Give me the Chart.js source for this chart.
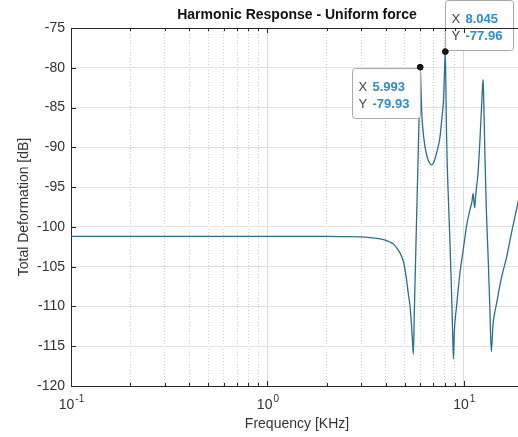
<!DOCTYPE html>
<html>
<head>
<meta charset="utf-8">
<script src="https://cdn.jsdelivr.net/npm/chart.js@4.4.0/dist/chart.umd.min.js"></script>
<style>
  html, body { margin: 0; padding: 0; background: #fff; overflow: hidden; }
  #wrap { width: 540px; height: 437px; }
</style>
</head>
<body>
<div id="wrap"><canvas id="myChart" width="540" height="437"></canvas></div>
<script>
// frequency response (kHz, dB)
const freq = [0.1, 0.2, 0.5, 1, 2, 2.5, 3, 3.5, 3.9, 4.2, 4.4, 4.6, 4.8, 4.95, 5.1, 5.22, 5.32, 5.42, 5.48, 5.53,
  5.6, 5.7, 5.8, 5.9, 5.96, 5.993, 6.03, 6.1, 6.2, 6.34, 6.5, 6.7, 6.86, 7.05, 7.3, 7.55, 7.75, 7.88, 7.97, 8.045,
  8.1, 8.17, 8.3, 8.49, 8.65, 8.77, 8.85, 8.95, 9.18, 9.55, 10.0, 10.3, 10.7, 11.0, 11.15, 11.25, 11.35, 11.45, 11.6, 11.8,
  12.05, 12.3, 12.45, 12.53, 12.62, 12.8, 13.0, 13.3, 13.55, 13.8, 14.05, 14.3, 14.65, 15.5, 16.5, 17.5, 18.5, 20];
const deform = [-101.2, -101.2, -101.2, -101.2, -101.2, -101.22, -101.25, -101.4, -101.6, -101.9, -102.2, -102.8, -103.6, -104.6, -106.5, -108.5, -110, -112.5, -114.5, -116,
  -110.3, -102.5, -94.8, -87.5, -82.8, -79.93, -81.5, -85.5, -88, -89.9, -91.2, -92, -92.2, -91.8, -90.5, -88.8, -86, -84, -80.5, -77.96,
  -82.5, -89, -95, -101.7, -108, -113.5, -116.6, -113, -110, -105.8, -102.3, -100, -98, -96.8, -95.8, -96.8, -97.6, -96.5, -95, -93.3,
  -89.5, -85, -82.3, -81.5, -84, -91, -97.5, -104, -110, -115.7, -112.5, -111, -109.7, -106.5, -103.8, -100.7, -97.9, -94];

// data tips
const tipFreq = [5.993, 8.045];
const tipDeform = [-79.93, -77.96];

// x tick labels (10^n)
const xTickValues = [0.1, 1, 10];
const xTickExp = ['-1', '0', '1'];

const FONT = '"Liberation Sans", Arial, Helvetica, sans-serif';

function isDecade(v) {
  const l = Math.log10(v);
  return Math.abs(l - Math.round(l)) < 1e-9;
}

// top border, inward ticks, title, x tick labels
const framePlugin = {
  id: 'frame',
  afterDraw(chart) {
    const { ctx, chartArea: a, scales } = chart;
    ctx.save();
    ctx.strokeStyle = '#262626';
    ctx.lineWidth = 1;
    ctx.beginPath();
    ctx.moveTo(a.left, a.top + 0.5);
    ctx.lineTo(a.right, a.top + 0.5);
    scales.x.ticks.forEach(t => {
      const px = Math.round(scales.x.getPixelForValue(t.value)) + 0.5;
      const len = isDecade(t.value) ? 5 : 3;
      ctx.moveTo(px, a.bottom); ctx.lineTo(px, a.bottom - len);
      ctx.moveTo(px, a.top); ctx.lineTo(px, a.top + len);
    });
    scales.y.ticks.forEach(t => {
      const py = Math.round(scales.y.getPixelForValue(t.value)) + 0.5;
      ctx.moveTo(a.left, py); ctx.lineTo(a.left + 5, py);
    });
    ctx.stroke();

    // title centred on the plot box
    ctx.fillStyle = '#111';
    ctx.font = 'bold 14px ' + FONT;
    ctx.textAlign = 'center';
    ctx.textBaseline = 'middle';
    ctx.fillText('Harmonic Response - Uniform force', (a.left + a.right) / 2, 15);

    // x tick labels with superscript exponent
    ctx.fillStyle = '#333';
    ctx.textAlign = 'left';
    ctx.textBaseline = 'alphabetic';
    xTickValues.forEach((v, i) => {
      const px = scales.x.getPixelForValue(v);
      ctx.font = '14px ' + FONT;
      const w1 = ctx.measureText('10').width;
      ctx.font = '10px ' + FONT;
      const w2 = ctx.measureText(xTickExp[i]).width;
      const x0 = px - (w1 + w2) / 2;
      ctx.font = '14px ' + FONT;
      ctx.fillText('10', x0, a.bottom + 23);
      ctx.font = '10px ' + FONT;
      ctx.fillText(xTickExp[i], x0 + w1 + 1, a.bottom + 16);
    });
    ctx.restore();
  }
};

// MATLAB style data tips
const tipPlugin = {
  id: 'tips',
  afterDatasetsDraw(chart) {
    const { ctx, scales } = chart;
    ctx.save();
    tipFreq.forEach((f, i) => {
      const px = scales.x.getPixelForValue(f);
      const py = scales.y.getPixelForValue(tipDeform[i]);
      const w = 68, h = 50;
      let bx, by;
      if (i === 0) { bx = px - w; by = py + 1; } else { bx = px; by = py - h - 2; }
      bx = Math.round(bx) + 0.5; by = Math.round(by) + 0.5;
      ctx.beginPath();
      ctx.roundRect(bx, by, w, h, 3);
      ctx.fillStyle = 'rgba(255,255,255,0.96)';
      ctx.fill();
      ctx.strokeStyle = '#a8a8a8';
      ctx.lineWidth = 1;
      ctx.stroke();

      ctx.textBaseline = 'middle';
      ctx.textAlign = 'left';
      ctx.font = '13px ' + FONT;
      ctx.fillStyle = '#444';
      ctx.fillText('X', bx + 6, by + 18.5);
      ctx.fillText('Y', bx + 6, by + 36);
      ctx.font = 'bold 13px ' + FONT;
      ctx.fillStyle = '#2f8bd2';
      ctx.fillText(f.toFixed(3), bx + 20, by + 18.5);
      ctx.fillText(tipDeform[i].toFixed(2), bx + 20, by + 36);
    });
    ctx.restore();
    // redraw tip markers above the boxes
    chart.getDatasetMeta(1).data.forEach(el => el.draw(ctx, chart.chartArea));
  }
};

new Chart(document.getElementById('myChart'), {
  type: 'line',
  data: {
    datasets: [
      {
        data: freq.map((f, i) => ({ x: f, y: deform[i] })),
        borderColor: '#2a6f8e',
        borderWidth: 1.3,
        pointRadius: 0,
        cubicInterpolationMode: 'monotone',
        fill: false
      },
      {
        data: tipFreq.map((f, i) => ({ x: f, y: tipDeform[i] })),
        showLine: false,
        pointRadius: 2.8,
        pointBackgroundColor: '#151515',
        pointBorderColor: '#151515'
      }
    ]
  },
  options: {
    responsive: false,
    animation: false,
    layout: { padding: { top: 28, left: 0, right: 17, bottom: 0 } },
    plugins: {
      legend: { display: false },
      tooltip: { enabled: false },
      title: { display: false }
    },
    scales: {
      x: {
        type: 'logarithmic',
        min: 0.1,
        max: 20,
        afterBuildTicks(scale) {
          const t = [];
          [0.1, 1, 10].forEach(d => {
            for (let m = 1; m <= 9; m++) if (m * d <= 20) t.push({ value: m * d });
          });
          t.push({ value: 20 });
          scale.ticks = t;
        },
        afterFit(scale) { scale.height = 51; },
        ticks: { callback: () => '', autoSkip: false, maxRotation: 0 },
        grid: {
          drawTicks: false,
          color: ctx => (ctx.tick && isDecade(ctx.tick.value)) ? '#dadada' : '#cfcfcf'
        },
        border: {
          color: '#262626',
          dash: ctx => (ctx.tick && !isDecade(ctx.tick.value)) ? [1, 2] : []
        },
        title: {
          display: true,
          text: 'Frequency [KHz]',
          color: '#333',
          font: { family: FONT, size: 14 },
          padding: { top: 0, bottom: 4 }
        }
      },
      y: {
        min: -120,
        max: -75,
        afterFit(scale) { scale.width = 71; },
        ticks: { stepSize: 5, color: '#333', font: { family: FONT, size: 14 }, padding: 6 },
        grid: { drawTicks: false, color: '#e2e2e2' },
        border: { color: '#262626' },
        title: {
          display: true,
          text: 'Total Deformation [dB]',
          color: '#333',
          font: { family: FONT, size: 14 },
          padding: { top: 16, bottom: 0 }
        }
      }
    }
  },
  plugins: [framePlugin, tipPlugin]
});
</script>
</body>
</html>
